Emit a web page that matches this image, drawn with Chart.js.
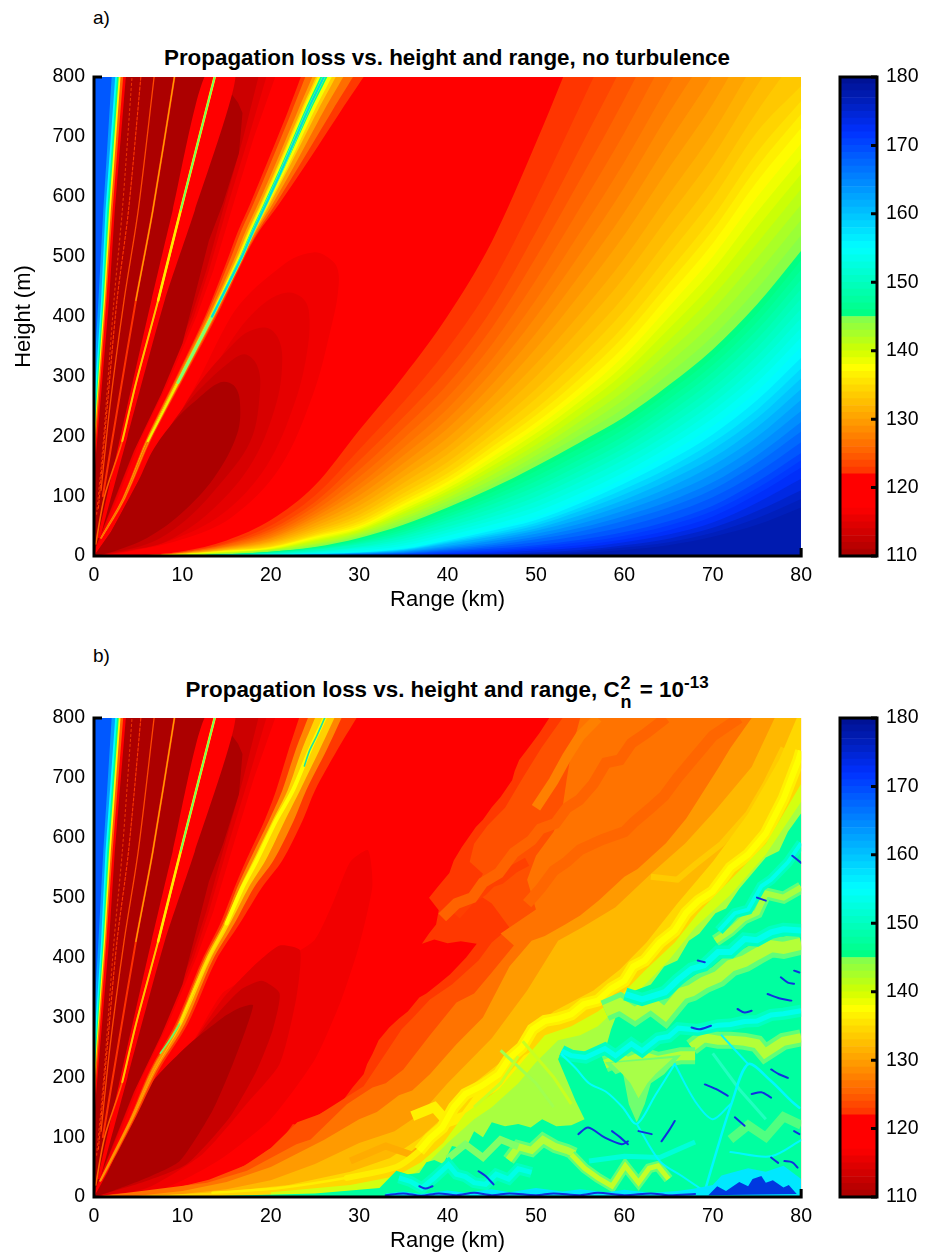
<!DOCTYPE html>
<html>
<head>
<meta charset="utf-8">
<script src="https://cdn.jsdelivr.net/npm/chart.js@4"></script>
<style>
  body { margin: 0; background: #fff; font-family: "Liberation Sans", sans-serif; color: #000; }
  #page { position: relative; width: 926px; height: 1253px; overflow: hidden; }
  canvas { position: absolute; }
  .tag { position: absolute; left: 93px; font-size: 19px; line-height: 22px; }
  .ttl { position: absolute; left: 0; width: 894px; text-align: center; font-size: 22.4px; font-weight: bold; line-height: 26px; white-space: nowrap; }
  .ttl sup { font-size: 17px; line-height: 0; vertical-align: 9px; }
  .stack { display: inline-block; position: relative; width: 14px; height: 10px; }
  .stack b { position: absolute; left: 1px; font-size: 18px; line-height: 18px; }
</style>
</head>
<body>
<div id="page">
  <div class="tag" style="top:7px">a)</div>
  <div class="ttl" style="top:45px">Propagation loss vs. height and range, no turbulence</div>
  <div class="tag" style="top:645px">b)</div>
  <div class="ttl" style="top:677px">Propagation loss vs. height and range, C<span class="stack"><b style="top:-13px">2</b><b style="top:6px">n</b></span> = 10<sup>-13</sup></div>
  <canvas id="plotA" width="820" height="620" style="left:0;top:0"></canvas>
  <canvas id="barA" width="106" height="620" style="left:820px;top:0"></canvas>
  <canvas id="plotB" width="820" height="620" style="left:0;top:641px"></canvas>
  <canvas id="barB" width="106" height="620" style="left:820px;top:641px"></canvas>
</div>
<script>
// ---- data: range in km, height in m, loss in dB ----
const rangeTicks = [0, 10, 20, 30, 40, 50, 60, 70, 80];
const heightTicks = [0, 100, 200, 300, 400, 500, 600, 700, 800];
const lossTicks = [110, 120, 130, 140, 150, 160, 170, 180];

const colorbarLevels = [110,111,112,113,114,115,116,117,118,119,120,121,122,123,124,125,126,127,128,129,130,131,132,133,134,135,136,137,138,139,140,141,142,143,144,145,146,147,148,149,150,151,152,153,154,155,156,157,158,159,160,161,162,163,164,165,166,167,168,169,170,171,172,173,174,175,176,177,178,179];

// panel a: height of each loss level at these ranges
const rangeGrid = [0, 5, 10, 15, 20, 25, 30, 35, 40, 45, 50, 55, 60, 65, 70, 75, 80];
const levelsA = [122,123,124,125,126,127,128,129,130,131,132,133,134,135,136,137,138,139,140,141,142,143,144,145,146,147,148,149,150,151,152,153,154,155,156.5,158,159.5,161,162.5,164,165.5,167,168.5,170,171,172,173.5,175,176,177];
const h122 = [0,1,8,26,60,118,210,300,401,525,690,870,1050,1230,1400,1600,1800];
const h123 = [0,1,7,22,51,101,178,257,346,455,597,752,910,1075,1226,1405,1583];
const h124 = [0,1,6,20,45,90,159,232,312,412,541,682,826,979,1120,1288,1453];
const h125 = [0,0,6,19,41,83,144,213,287,381,499,629,763,907,1041,1200,1355];
const h126 = [0,0,6,17,37,76,132,196,265,353,461,582,707,843,971,1122,1268];
const h127 = [0,0,5,16,34,70,120,181,246,328,428,541,658,787,909,1054,1192];
const h128 = [0,0,5,15,31,65,111,168,229,307,400,505,616,739,856,996,1127];
const h129 = [0,0,5,14,29,60,101,155,213,286,372,470,574,691,804,937,1062];
const h130 = [0,0,4,13,26,55,92,143,197,266,347,438,536,647,755,883,1002];
const h131 = [0,0,4,12,24,50,84,132,182,247,321,405,497,603,707,830,943];
const h132 = [0,0,4,11,22,46,76,122,170,231,300,379,466,567,667,786,894];
const h133 = [0,0,4,10,20,42,69,113,157,215,279,353,434,531,628,742,845];
const h134 = [0,0,3,10,18,39,64,105,148,203,263,332,410,503,597,708,785];
const h135 = [0,0,3,9,16,36,58,98,138,191,246,311,385,475,566,674,760];
const h136 = [0,0,3,9,15,34,54,92,131,182,235,297,368,455,544,649,738];
const h137 = [0,0,3,8,14,32,50,87,124,173,223,282,350,435,522,625,715];
const h138 = [0,0,3,7,13,30,48,83,119,165,214,270,335,416,500,599,689];
const h139 = [0,0,3,7,12,28,45,78,113,158,205,259,320,398,478,574,664];
const h140 = [0,0,2,6,11,26,43,74,108,150,196,248,306,379,456,548,638];
const h141 = [0,0,2,6,11,24,40,70,103,143,186,236,291,360,434,522,613];
const h142 = [0,0,2,5,10,21,38,65,97,135,177,225,276,341,411,497,587];
const h143 = [0,0,2,4,9,19,35,61,92,127,168,213,262,322,389,471,561];
const h144 = [0,0,1,4,8,17,33,56,86,120,159,202,247,304,367,446,536];
const h145 = [0,0,1,3,7,15,30,52,81,113,150,190,232,285,345,420,510];
const h146 = [0,0,1,3,7,14,28,48,76,106,142,181,222,274,332,405,494];
const h147 = [0,0,1,3,6,13,25,44,70,99,133,171,212,262,319,391,478];
const h148 = [0,0,1,2,6,12,23,40,65,93,125,162,201,251,307,377,462];
const h149 = [0,0,1,2,5,11,21,36,60,86,116,152,191,239,294,362,446];
const h150 = [0,0,1,2,5,10,19,33,55,79,108,143,181,228,281,348,430];
const h151 = [0,0,0,2,4,8,16,29,49,72,99,133,171,216,268,333,413];
const h152 = [0,0,0,2,4,7,14,25,44,65,91,124,161,204,255,319,397];
const h153 = [0,0,0,1,3,6,12,21,39,59,82,114,150,193,243,304,381];
const h154 = [0,0,0,1,3,5,9,17,34,52,74,105,140,182,230,290,365];
const h155 = [0,0,0,1,2,4,7,13,28,45,65,95,130,170,217,275,349];
const h1565 = [0,0,0,1,2,4,6,12,26,42,60,88,121,159,203,260,331];
const h158 = [0,0,0,1,2,3,6,11,24,38,55,81,112,147,190,244,313];
const h1595 = [0,0,0,1,1,3,5,10,22,35,51,75,103,137,178,230,297];
const h161 = [0,0,0,1,1,3,5,9,20,32,46,68,94,126,164,215,279];
const h1625 = [0,0,0,0,1,2,4,8,17,28,42,61,85,114,151,199,261];
const h164 = [0,0,0,0,1,2,4,7,15,25,37,54,76,103,137,184,242];
const h1655 = [0,0,0,0,0,2,3,6,13,21,32,47,67,91,123,168,224];
const h167 = [0,0,0,0,0,1,3,5,11,18,28,41,59,81,111,155,208];
const h1685 = [0,0,0,0,0,1,2,4,9,15,23,34,49,70,98,139,190];
const h170 = [0,0,0,0,0,0,2,3,7,12,18,27,40,58,84,124,172];
const h171 = [0,0,0,0,0,0,1,2,5,9,15,23,34,51,75,113,160];
const h172 = [0,0,0,0,0,0,1,2,4,7,12,18,28,43,66,103,148];
const h1735 = [0,0,0,0,0,0,0,1,3,5,9,14,23,36,56,89,129];
const h175 = [0,0,0,0,0,0,0,1,2,3,6,10,18,29,47,75,110];
const h176 = [0,0,0,0,0,0,0,0,1,2,4,7,14,23,39,63,95];
const h177 = [0,0,0,0,0,0,0,0,0,1,2,5,10,18,32,52,81];
const curvesA = [h122,h123,h124,h125,h126,h127,h128,h129,h130,h131,h132,h133,h134,h135,h136,h137,h138,h139,h140,h141,h142,h143,h144,h145,h146,h147,h148,h149,h150,h151,h152,h153,h154,h155,h1565,h158,h1595,h161,h1625,h164,h1655,h167,h1685,h170,h171,h172,h1735,h175,h176,h177];

// low loss lobe under the main null, panel a, [range, height]
const lobeA116 = [[0,0],[3.4,6],[9.8,27],[15.5,64],[21,147],[24.8,271],[26.8,380],[27.6,440],[27.5,482],[26,503],[24.8,507],[22.5,497],[20.7,478],[17.7,440],[15.5,400],[11.5,285],[8,195],[5,110],[2,40]];
const lobeA115 = [[0,0],[3.4,7],[8.5,25],[14.5,70],[19.5,150],[22.8,260],[24.2,350],[24.3,410],[23.5,432],[21.9,440],[19.5,425],[16.5,380],[13,300],[9.2,215],[6,125],[2.5,40]];
const lobeA114 = [[0,0],[3.4,8],[8.3,25],[13.6,80],[18,159],[20.7,259],[21.3,331],[20.8,365],[19.6,381],[17.5,375],[15.8,355],[11.7,285],[8.5,205],[5.5,120],[2.2,40]];
const lobeA113 = [[0,0],[6,20],[9.8,53],[13.6,109],[17.7,192],[18.8,281],[18.4,320],[17,337],[15.1,321],[11.3,268],[8.4,212],[5.2,130],[2,42]];
const lobeA112 = [[0,0],[2.3,8],[6,30],[9.8,70],[13.6,131],[16.2,204],[16.5,259],[15.8,285],[14.3,290],[11.7,262],[9.5,232],[6.8,180],[5,125],[1.9,40]];

// low loss wedge left of the main null (both panels)
const wedge116 = [[0,0],[0,800],[20.5,800],[18.1,700],[15.8,589],[13.5,477],[11.6,400],[8.4,290],[5.2,192],[2.7,97],[0.3,15]];
const wedge115 = [[0,0],[0,800],[19.5,800],[17.5,700],[15.2,589],[13,477],[11.3,400],[8.2,290],[5,192],[2.5,97],[0.2,15]];
const wedge114 = [[0,0],[0,800],[18.6,800],[16.9,700],[14.8,589],[12.7,477],[11,400],[8,290],[4.8,192],[2.4,97],[0.2,15]];
const wedge112 = [[0,0],[0,800],[14.9,800],[15.4,775],[16.3,757],[16.8,740],[16.4,673],[14.6,589],[13,527],[11.5,440],[10,355],[7.6,270],[4.5,175],[2.2,90],[0.2,15]];

// high loss wedge at the left axis (both panels)
const edge117 = [[0,130],[1.7,427],[2.35,577],[3.6,800],[0,800]];
const edge125 = [[0,150],[1.4,427],[2.1,577],[3.3,800],[0,800]];
const edge137 = [[0,180],[1.25,427],[1.9,577],[3,800],[0,800]];
const edge145 = [[0,195],[1.1,427],[1.7,577],[2.8,800],[0,800]];
const edge155 = [[0,215],[0.95,427],[1.5,577],[2.6,800],[0,800]];
const edge165 = [[0,250],[0.8,427],[1.3,577],[2.4,800],[0,800]];
const edge170 = [[0,300],[0.5,427],[1.05,577],[2,800],[0,800]];

// thin nulls fanning out of the origin
const null2 = [[0.3,70],[1.1,200],[2.26,427],[3.2,577],[4.3,800]];
const null3 = [[0.5,80],[1.5,250],[2.6,427],[3.9,577],[5.3,800]];
const null4 = [[0.8,110],[1.8,250],[3.4,427],[5,577],[6.8,800]];
const null5 = [[1,100],[2.7,250],[4.74,427],[6.65,577],[9.1,800]];
const null5Upper = [[4.74,427],[6.65,577],[9.1,800]];
const null6 = [[0.2,20],[1.2,100],[3.2,192],[4.74,288],[7.26,427],[9.8,577],[13.65,800]];
const null6Mid = [[3.2,192],[4.74,288],[7.26,427],[9.8,577],[13.65,800]];
const null6Upper = [[7.26,427],[9.8,577],[13.65,800]];
const null6Top = [[9.8,577],[13.65,800]];
const halo6 = [[0.4,30],[3,200],[6.5,427],[8.9,577],[12.5,800],[16,800],[11.4,577],[8,427],[3.8,200],[0.7,30]];

// main null of panel a with its halo, edges at these heights
const haloHeights = [800,745,650,589,539,499,400,290,192,97,30];
const nullA = [26,24.2,21.4,19.5,17.9,16.7,13.35,9.5,6.1,3.4,0.8];
const haloLeft122 = [23.4,22,19.4,17.7,16.2,15.2,12.55,9,5.8,3.2,0.7];
const haloLeft126 = [23.9,22.44,19.8,18.06,16.54,15.5,12.71,9.1,5.86,3.24,0.72];
const haloLeft130 = [24.7,23.1,20.4,18.6,17.05,15.95,12.95,9.25,5.95,3.3,0.75];
const haloLeft134 = [25.1,23.43,20.7,18.87,17.3,16.18,13.07,9.33,6,3.33,0.77];
const haloLeft138 = [25.3,23.6,20.86,19.01,17.44,16.3,13.13,9.37,6.02,3.35,0.78];
const haloLeft146 = [25.6,23.87,21.1,19.23,17.65,16.48,13.23,9.43,6.06,3.37,0.79];
const haloRight122 = [30.5,28,23.8,21,18.55,17.05,13.85,9.9,6.4,3.6,0.9];
const haloRight126 = [29.3,27,23.15,20.6,18.4,16.95,13.7,9.8,6.32,3.55,0.88];
const haloRight130 = [28.2,26.05,22.6,20.25,18.2,16.85,13.6,9.7,6.25,3.5,0.85];
const haloRight134 = [27.35,25.35,22.1,19.95,18.1,16.8,13.5,9.62,6.19,3.46,0.84];
const haloRight138 = [26.9,24.96,21.9,19.8,18.03,16.77,13.45,9.58,6.16,3.44,0.82];
const haloRight146 = [26.4,24.54,21.6,19.64,17.96,16.73,13.4,9.53,6.13,3.42,0.81];

// panel b: low loss lobe
const lobeB116 = [[0,0],[8,15],[14,60],[20,130],[25,230],[28,330],[30,420],[31.5,520],[31,579],[29,560],[27,490],[25,430],[22,400],[18,370],[14.5,340],[11,255],[7,180],[3,80]];
const lobeB114 = [[0,0],[6,15],[12.3,72],[17.3,156],[21,222],[22.9,333],[23.3,412],[21,420],[18,385],[14.5,330],[10.8,250],[7,175],[3,75]];
const lobeB113 = [[0,0],[6,27],[10.5,55],[15.3,132],[18.4,211],[20.2,278],[21,340],[19,361],[16.5,345],[13,290],[10,235],[6.7,172],[2.5,55]];
const lobeB112 = [[0,0],[2.1,10],[6,32],[9.7,60],[13.4,144],[15.7,222],[18,320],[16.5,316],[14.6,300],[10.8,256],[6.7,194],[4,120],[1.5,40]];

// panel b: main null smeared by the turbulence
const bandHeights = [800,746,679,629,562,517,457,395,289,211,127,27];
const nullB = [26.1,24.4,22.5,20.6,18.4,16.8,15,12.8,9.7,6.7,4.1,0.7];
const bandLeft122 = [23.2,22,20.6,19.3,17.2,15.9,14.3,12.2,9.2,6.3,3.9,0.6];
const bandLeft128 = [24.2,22.8,21.3,19.8,17.6,16.2,14.6,12.4,9.4,6.45,4,0.65];
const bandLeft135 = [25,23.5,21.9,20.2,18,16.5,14.8,12.6,9.55,6.6,4.05,0.68];
const bandRight122 = [29.7,27.5,25,23.6,21.3,19,16.5,13.8,10.6,7.3,4.5,0.9];
const bandRight128 = [28,26.3,24,22.6,20.3,18.1,15.9,13.4,10.3,7.05,4.35,0.82];
const bandRight135 = [27.2,25.5,23.3,21.6,19.4,17.5,15.4,13.1,9.95,6.85,4.2,0.75];
const nullBGreenTop = [[26.1,800],[25.2,770],[24.4,746],[23.8,720]];
const nullBGreenLow = [[9.7,289],[8.7,265],[7.5,240]];

// panel b: rough loss contours, closed along the right edge of the plot
const zone122 = [[0,0],[2.2,5],[7.8,10],[12.8,27],[14.5,33],[16.5,49],[18,60],[19.5,77],[21,90],[22.5,122],[23.6,118],[24.7,132],[27,150],[28,158],[29.2,182],[30.5,205],[30.9,222],[31.5,239],[32.2,262],[33.4,283],[34.5,298],[35.5,310],[36.8,333],[37.6,340],[39,356],[40.3,372],[42.1,400],[43.3,423],[41.5,427],[40,424],[38.5,430],[37.1,423],[37.9,440],[38.7,455],[39,479],[37.9,500],[38.9,518],[40.2,541],[40.7,562],[41.6,584],[43.2,618],[44,630],[45,651],[46,668],[47.3,696],[47.6,712],[48.1,730],[49.2,751],[50.4,775],[51.5,800]];
const zone124 = [[0,0],[3,4],[8,11],[13,29],[17,52],[20,82],[23,125],[25.5,138],[30.5,185],[33,240],[34.8,280],[36,298],[38,330],[40.5,355],[43.5,395],[45,425],[47,450],[45,490],[43,510],[44,540],[42.5,560],[43,590],[44.5,620],[46.5,650],[48.5,700],[50.6,750],[53,800]];
const zone126 = [[0,0],[12.8,24],[17.3,44],[22.9,88],[24.5,96],[28.6,155],[31.5,183],[33,190],[35,213],[38,270],[41,325],[43,340],[45,375],[47.5,420],[46,440],[50,480],[49,530],[50,570],[52,610],[53,650],[53.5,700],[54,745],[55,800]];
const zone130 = [[0,0],[5,2],[10,10],[15,25],[20,50],[26,95],[30,130],[32,142],[34.5,170],[36,178],[38,205],[41,255],[44,300],[47,385],[49.5,428],[51,436],[53.3,455],[55,470],[57.1,495],[60,535],[61.5,548],[64.7,591],[67,632],[70.7,718],[72,750],[74.4,800]];
const zone133 = [[0,0],[5,1],[10,5],[15,13],[20,28],[25,55],[30,90],[34,110],[37,140],[40,190],[45,265],[49,345],[52.5,428],[55.2,450],[59,484],[63.1,541],[66.9,591],[70.3,646],[74.4,718],[77,800]];
const zone136 = [[0,0],[8,3],[15,9],[22,20],[29,42],[33.5,65],[37,100],[40,140],[43,190],[46,225],[49,270],[52,310],[56.5,345],[59.5,380],[62.5,425],[66,490],[70,560],[74,640],[77.5,730],[79.5,800]];
const zone140 = [[20,0],[20,8],[29,20],[34.2,35],[37,58],[39.5,90],[42,140],[45.8,180],[48.4,225],[51,270],[54,285],[57,310],[60,343],[62.3,378],[65.7,425],[68.4,475],[72,530],[76,590],[80,690],[80,0]];
const zone143 = [[30,0],[35,25],[38,60],[40,90],[43,130],[45,150],[48,190],[50,225],[52.5,262],[55,270],[57,285],[59.5,320],[62,350],[65,395],[68,450],[72,505],[76,572],[80,660],[80,0]];
const zoneGreen = [[10,0],[15,2],[25,6],[32.3,15],[34.2,44],[35.5,38],[36.8,40],[37.6,58],[38.5,62],[39.5,55],[40.5,85],[42,80],[43,110],[44,100],[45,125],[46.5,118],[48,122],[49.4,116],[50.7,130],[52.3,118],[54,120],[55.5,130],[54.5,160],[53.5,195],[52.5,230],[52.9,244],[55.6,238],[57.8,244],[58.5,280],[60,338],[63,355],[64.5,385],[66,395],[67.3,428],[68.5,440],[70.3,474],[71.5,482],[73,515],[76,567],[77.5,578],[78.5,610],[80,641],[80,0]];
const zoneCyan = [[33,0],[33,6],[35,9],[37,5],[40,11],[42,7],[45,13],[47,8],[50,15],[53,9],[55,13],[58,8],[60,12],[63,7],[66,10],[68,14],[70,20],[71,36],[72,40],[74,48],[76,42],[78,52],[80,30],[80,0]];
const zoneBlue = [[69.5,3],[70.5,18],[71.5,10],[73,25],[74,18],[74.5,30],[75.5,35],[76,24],[76.8,28],[78,16],[78.6,20],[79.5,5]];
const wedgeOuter = [[57.8,225],[59,205],[59.8,210],[60.5,155],[61.4,125],[62.3,155],[63,190],[64.5,205],[66.4,237]];
const wedgeInner = [[58.5,224],[59.8,205],[60.7,190],[61.6,165],[62.6,190],[63.5,205],[65.5,232]];

// orange strips inside the amber part of panel b
const stripOrange1 = [[64.7,800],[62.5,775],[60.8,758],[59.5,730],[57.9,725],[56.5,690],[54.9,663],[53.5,650],[52.2,624],[50.5,615],[49.5,596],[47.5,575],[45.8,541],[44,525],[42.8,500],[41,490],[39.4,467]];
const stripOrange2 = [[73,800],[70,770],[68,735],[66,700],[64.5,670],[63,650],[61,625],[60,610],[57.5,597],[55,580],[53.5,560],[52,545],[50.5,515],[49,490]];
const stripRed = [[41,470],[42.5,495],[44,510],[45,525],[46,530],[47.5,548],[49,560]];
const stripLight1 = [[57,800],[55,770],[53.5,735],[52,695],[50,650]];
const amberLight1 = [[63,535],[66,530],[68,555],[71,590],[74,640],[76,690],[78,750]];
const amberLight2 = [[36,135],[38.5,150],[40,125],[42,135],[44,175],[47,195],[49,230],[52,255]];
const amberLight3 = [[29,60],[33,85],[36,70],[38,95]];
// ridges and valleys of the scintillation
const ridgeYellowLow = [[13.4,7],[21,15],[28.6,32],[34.2,50]];
const ridgeYellowMid = [[28.6,32],[34.2,50],[36.8,77],[38,98]];
const ridgeYellow = [[36.8,77],[38,98],[39.4,116],[40.7,150],[42,172],[43.8,185],[45.8,205],[47,232],[48.4,250],[49.6,280],[51,294],[52.5,298],[54,305],[55.4,322],[57,328],[58.5,348],[60,361],[61,385],[62.3,395],[64,425],[65.7,445],[67,475],[68.4,495],[70,510],[72,550],[74,572],[76,607],[78,665],[79.7,730],[80,745]];
const ridgeT0 = [[70.3,428],[72,445],[73.5,465],[75,475],[76,507],[78,500],[80,517]];
const ridgeT1 = [[57.8,311],[59.5,322],[61.2,306],[63,324],[64.6,306],[66.5,340],[67.6,345],[69,358],[70.6,368],[72,386],[73.6,394],[75,406],[76.6,419],[78,416],[80,423]];
const ridgeT2 = [[67.6,250],[69,266],[70.6,262],[72,262],[73.6,260],[75,256],[75.9,240],[78,260],[80,266]];
const ridgeT3 = [[57.8,222],[59.5,232],[60.4,226],[62,236],[63.8,228],[66.4,236],[68,236]];
const ridgeT5 = [[46.9,62],[48,84],[49.5,78],[50.8,96],[52.2,84],[53.5,78],[54.4,72]];
const ridgeT6 = [[54,71],[55.5,48],[57,32],[58.6,18],[60.1,52],[61.6,24],[62.8,48],[63.8,52],[65,30]];
const ridgeT7 = [[40,64],[42,88],[44,66],[46,96],[48,84]];
const ridgeT8 = [[72,96],[74,120],[76,100],[78,134],[80,120]];
const valleyV0 = [[70.7,445],[72.5,474],[74,480],[75.5,519],[76.6,530],[78.5,559],[80,591]];
const valleyV1 = [[60.1,339],[62,330],[64.6,342],[66,362],[67.6,381],[69,387],[70.6,409],[72,409],[73.6,431],[75,429],[76.6,442],[78,447],[80,445]];
const valleyV2 = [[52.9,244],[54,236],[55.6,233],[57.8,248],[59,236],[60.8,256],[62,244],[63.8,265],[65,268],[66.1,282],[68.3,279],[70.6,287],[72,288],[73.6,293],[75,294],[76.6,304],[78,306],[80,311]];
const valleyB4 = [[34.5,32],[35.8,26],[37.1,15],[38.5,32],[40.1,54],[41,38],[42,34],[43,24],[44.3,21],[45.5,38],[46.9,30],[48,47],[49.5,41]];
const valleyB5 = [[56,60],[60,68],[64,66],[68,92]];
const cyanV = [[52.9,238],[54.5,215],[56,190],[58,175],[59.8,150],[61.4,122],[63.5,170],[65.7,222]];
const cyanC1 = [[69.1,10],[70.5,80],[72.1,155],[74,222],[76.5,195],[78.9,160],[79.8,149]];
const cyanC2 = [[61.4,122],[64,60],[66.5,35],[69,10]];
const cyanC3 = [[72,75],[76.6,68],[80,95]];
const cyanC4 = [[65.7,222],[68,160],[70,130],[72,155]];
const cyanC5 = [[74,222],[71,270]];
const hatch1 = [[46,245],[50,190],[52,150]];
const hatch2 = [[48.5,260],[52,200],[54,155]];
const hatch3 = [[43,150],[46,190],[48,235]];
const hatch4 = [[70,240],[73,180],[76,130]];
// short dark blue streaks
const streak1 = [[54.8,105],[55.9,116],[57.8,99],[59.7,88],[60.4,93]];
const streak2 = [[58.6,110],[59.5,100],[60.4,88]];
const streak3 = [[61.6,110],[63.1,105]];
const streak4 = [[64.2,93],[65,110],[65.7,127]];
const streak5 = [[67.6,283],[68.5,280],[69.8,286]];
const streak6 = [[69.1,188],[70.4,180],[71.7,169]];
const streak7 = [[74.4,172],[75.5,175],[76.6,166]];
const streak8 = [[72.8,314],[73.6,308],[74.4,311]];
const streak9 = [[76.6,213],[77.5,205],[78.5,199]];
const streak10 = [[77.7,367],[78.5,358],[79.2,356]];
const streak11 = [[79.2,378],[79.8,375]];
const streak12 = [[76.2,339],[77.5,332],[78.9,328]];
const streak13 = [[68.3,395],[69.1,392]];
const streak14 = [[78.1,60],[79,58],[79.6,49]];
const streak15 = [[76.6,66],[77.4,57]];
const streak16 = [[43.5,43],[44.3,35],[45.2,21]];
const streak17 = [[36.8,18],[37.5,14],[38.3,18]];
const streak18 = [[72.5,133],[73.6,119]];
const streak19 = [[79.2,110],[79.8,105]];
const streak20 = [[33,3],[35,6],[37,2],[39,6],[41,3],[43,7],[45,3],[47,6],[50,3],[52,6],[55,3],[57,7],[60,3],[63,6],[65,3],[68,5]];
const streak21 = [[79,570],[80,558]];
const streak22 = [[75,500],[76,495]];
const streaks = [streak1,streak2,streak3,streak4,streak5,streak6,streak7,streak8,streak9,streak10,streak11,streak12,streak13,streak14,streak15,streak16,streak17,streak18,streak19,streak20,streak21,streak22];

// ---- colours ----
const stopLevels = [110,112,114,116,117,121.9,122,125,130,135,137.5,140,144.9,145,155,172,176,180];
const stopColors = ['#a80000','#c00000','#d80000','#f00000','#ff0000','#ff0000','#ff3000','#ff6000','#ffa000','#ffdd00','#ffff00','#d0ff00','#80ff50','#00ff80','#00ffff','#0030ff','#0020c0','#001090'];

function lossColor(level) {
  let i = stopLevels.findIndex(s => s > level);
  if (i < 0) return stopColors[stopColors.length - 1];
  if (i === 0) return stopColors[0];
  const t = (level - stopLevels[i - 1]) / (stopLevels[i] - stopLevels[i - 1]);
  const rgb = n => [1, 3, 5].map(k => parseInt(n.substr(k, 2), 16));
  const a = rgb(stopColors[i - 1]), b = rgb(stopColors[i]);
  return 'rgb(' + a.map((v, k) => Math.round(v + (b[k] - v) * t)).join(',') + ')';
}

// ---- dataset helpers ----
const toXY = pts => pts.map(p => ({ x: p[0], y: p[1] }));
const zipXY = (xs, ys) => xs.map((x, i) => ({ x: x, y: ys[i] }));
const pairs = (xs, ys) => xs.map((x, i) => [x, ys[i]]);

const area = (xy, color) => ({ data: xy, fill: 'origin', backgroundColor: color, borderWidth: 0, cubicInterpolationMode: 'monotone' });
const shape = (pts, color, tension) => ({ data: toXY(pts), fill: 'shape', backgroundColor: color, borderWidth: 0, tension: tension || 0 });
const stroke = (pts, color, width, dash) => ({ data: toXY(pts), fill: false, borderColor: color, borderWidth: width, borderDash: dash || [], tension: 0.3, borderCapStyle: 'round', borderJoinStyle: 'round' });
// sharp edged zigzag, used for the rough bands of panel b
const sharp = (pts, color, width) => ({ data: toXY(pts), fill: false, borderColor: color, borderWidth: width, tension: 0, borderCapStyle: 'butt', borderJoinStyle: 'miter' });
const soft = (pts, outer, inner, outerWidth, innerWidth) => [sharp(pts, outer, outerWidth), sharp(pts, inner, innerWidth)];
const band = (left, right, heights, color) => ({ data: zipXY(left, heights).concat(zipXY(right, heights).reverse()), fill: 'shape', backgroundColor: color, borderWidth: 0, tension: 0.3 });
const closeRight = pts => pts.concat([[80, 800], [80, 0]]);

const redBase = () => area(toXY([[0, 800], [80, 800]]), '#ff0000');

function leftFan() {
  return [
    stroke(null2, '#e83000', 1.1, [2, 3]),
    stroke(null3, '#ff3800', 1.1, [3, 2]),
    stroke(null4, '#ff4800', 1.3),
    shape(halo6, '#ff0000', 0.2),
    stroke(null5, '#ff3000', 2),
    stroke(null5Upper, '#ffa000', 1.3),
    stroke(null6, '#ff6000', 1.6),
    stroke(null6Mid, '#ffc000', 2),
    stroke(null6Upper, '#ffe800', 2.6),
    stroke(null6Top, '#60ff70', 1.4),
    shape(edge117, '#ff0000'),
    shape(edge125, lossColor(125)),
    shape(edge137, lossColor(137)),
    shape(edge145, lossColor(146)),
    shape(edge155, lossColor(155)),
    shape(edge165, lossColor(163)),
    shape(edge170, '#0058ff')
  ];
}

function wedgeLayers() {
  return [
    shape(wedge116, '#f00000'),
    shape(wedge115, '#e00000'),
    shape(wedge114, '#cc0000'),
    shape(wedge112, '#ac0000')
  ];
}

const nullAPts = pairs(nullA, haloHeights);
const nullBPts = pairs(nullB, bandHeights);

const datasetsA = [
  redBase(),
  shape(lobeA116, '#f20000', 0.35),
  shape(lobeA115, '#e60000', 0.35),
  shape(lobeA114, '#d80000', 0.35),
  shape(lobeA113, '#c80000', 0.35),
  shape(lobeA112, '#ac0000', 0.35),
  ...wedgeLayers(),
  ...levelsA.map((l, i) => area(zipXY(rangeGrid, curvesA[i]), lossColor(l + 0.3))),
  ...leftFan(),
  band(haloLeft122, haloRight122, haloHeights, lossColor(122.5)),
  band(haloLeft126, haloRight126, haloHeights, lossColor(126)),
  band(haloLeft130, haloRight130, haloHeights, lossColor(130)),
  band(haloLeft134, haloRight134, haloHeights, lossColor(134)),
  band(haloLeft138, haloRight138, haloHeights, lossColor(138)),
  band(haloLeft146, haloRight146, haloHeights, lossColor(146)),
  stroke(nullAPts, '#ff7000', 1.6),
  stroke(nullAPts.slice(0, 9), '#f0f000', 2),
  stroke(nullAPts.slice(0, 8), '#80ff70', 3),
  stroke(nullAPts.slice(0, 7), '#00e0d8', 2.2)
];

const datasetsB = [
  redBase(),
  shape(lobeB116, '#f20000', 0.2),
  shape(lobeB114, '#e00000', 0.2),
  shape(lobeB113, '#c80000', 0.2),
  shape(lobeB112, '#ac0000', 0.2),
  ...wedgeLayers(),
  shape(closeRight(zone122), lossColor(122.5)),
  shape(closeRight(zone124), lossColor(124)),
  shape(closeRight(zone126), lossColor(126.5)),
  sharp(stripRed, lossColor(123), 9),
  sharp(stripLight1, lossColor(127.5), 10),
  sharp(stripOrange1, lossColor(125.2), 11),
  sharp(stripOrange2, lossColor(125.5), 11),
  shape(closeRight(zone130), lossColor(129.5)),
  shape(closeRight(zone133), lossColor(132)),
  sharp(amberLight1, lossColor(133.5), 6),
  shape(closeRight(zone136), lossColor(134.5)),
  sharp(amberLight2, lossColor(136.5), 10),
  sharp(amberLight3, lossColor(131), 7),
  stroke(ridgeYellowLow, '#ffee00', 2.5),
  stroke(ridgeYellowMid, '#ffee00', 6),
  ...soft(ridgeYellow, '#fff000', '#ffff00', 12, 6),
  shape(zone140, '#d4ff10'),
  shape(zone143, '#a8ff40'),
  shape(zoneGreen, lossColor(147.5)),
  ...soft(ridgeT0, '#60ff78', '#a8ff40', 12, 6),
  ...soft(ridgeT1, '#60ff78', '#b4ff38', 22, 12),
  ...soft(ridgeT2, '#60ff78', '#b4ff38', 17, 9),
  ...soft(ridgeT3, '#60ff78', '#b4ff38', 17, 9),
  ...soft(ridgeT5, '#60ff78', '#b4ff38', 13, 7),
  ...soft(ridgeT6, '#60ff78', '#c4ff28', 10, 5),
  sharp(ridgeT7, '#80ff68', 7),
  sharp(ridgeT8, '#50ff80', 9),
  shape(wedgeOuter, '#70ff70'),
  shape(wedgeInner, '#a8ff48'),
  ...soft(valleyV0, lossColor(150), lossColor(153.5), 10, 4),
  ...soft(valleyV1, lossColor(150), lossColor(153.5), 13, 6),
  ...soft(valleyV2, lossColor(150), lossColor(153.5), 12, 5),
  ...soft(valleyB4, lossColor(150), lossColor(153), 11, 5),
  sharp(valleyB5, lossColor(152), 5),
  sharp(hatch1, '#a0ff50', 3),
  sharp(hatch2, '#c8ff20', 3),
  sharp(hatch3, '#c8ff20', 3),
  sharp(hatch4, '#20ffc0', 3),
  stroke(cyanV, '#00ffff', 2),
  stroke(cyanC1, '#00f8ff', 2.5),
  stroke(cyanC2, '#00f8ff', 2),
  stroke(cyanC3, '#00f8ff', 2),
  stroke(cyanC4, '#00f8ff', 2),
  stroke(cyanC5, '#00f8ff', 2),
  shape(zoneCyan, '#00e8ff'),
  shape(zoneBlue, '#0038e0'),
  ...streaks.map(s => stroke(s, '#1030e0', 2)),
  ...leftFan(),
  band(bandLeft122, bandRight122, bandHeights, lossColor(122.5)),
  band(bandLeft128, bandRight128, bandHeights, lossColor(128)),
  band(bandLeft135, bandRight135, bandHeights, lossColor(134)),
  stroke(nullBPts, '#ff9000', 1.8),
  stroke(nullBPts.slice(0, 9), '#ffe000', 2.6),
  stroke(nullBPts.slice(0, 7), '#ffff00', 4),
  stroke(nullBGreenTop, '#20e0a0', 1.6),
  stroke(nullBGreenLow, '#60ff70', 1.5)
];

// ---- axes drawn like the original: thick left and bottom, ticks inward ----
const plotFrame = {
  id: 'plotFrame',
  afterDraw(chart) {
    const { ctx, chartArea: a, scales } = chart;
    ctx.save();
    ctx.strokeStyle = '#000';
    ctx.lineWidth = 3;
    ctx.beginPath();
    ctx.moveTo(a.left, a.top - 1.5);
    ctx.lineTo(a.left, a.bottom);
    ctx.lineTo(a.right + 1.5, a.bottom);
    // only these two ticks show, the others sit under the image
    const top = scales.y.getPixelForValue(800);
    ctx.moveTo(a.left, top);
    ctx.lineTo(a.left + 8, top);
    const end = scales.x.getPixelForValue(80);
    ctx.moveTo(end, a.bottom);
    ctx.lineTo(end, a.bottom - 8);
    ctx.stroke();
    ctx.restore();
  }
};

const barFrame = {
  id: 'barFrame',
  afterDraw(chart) {
    const { ctx, chartArea: a, scales } = chart;
    ctx.save();
    ctx.strokeStyle = '#000';
    ctx.lineWidth = 3;
    ctx.strokeRect(a.left, a.top, a.right - a.left, a.bottom - a.top);
    ctx.beginPath();
    lossTicks.forEach(v => {
      const y = scales.y.getPixelForValue(v);
      ctx.moveTo(a.right, y);
      ctx.lineTo(a.right - 6, y);
    });
    ctx.stroke();
    ctx.restore();
  }
};

const tickFont = { family: '"Liberation Sans"', size: 19.5 };
const axisTitleFont = { family: '"Liberation Sans"', size: 22 };

function plotChart(id, datasets) {
  datasets.forEach((d, i) => { d.order = -i; d.clip = 0; d.pointRadius = 0; d.showLine = true; d.capBezierPoints = false; });
  return new Chart(document.getElementById(id), {
    type: 'scatter',
    data: { datasets: datasets },
    plugins: [plotFrame],
    options: {
      responsive: false,
      animation: false,
      events: [],
      layout: { padding: { top: 77, right: 18 } },
      elements: { line: { capBezierPoints: false } },
      plugins: { legend: { display: false }, tooltip: { enabled: false } },
      scales: {
        x: {
          type: 'linear', min: 0, max: 80,
          afterBuildTicks: s => { s.ticks = rangeTicks.map(v => ({ value: v })); },
          afterFit: s => { s.height = 64; },
          grid: { display: false, drawTicks: false },
          border: { display: false },
          ticks: { font: tickFont, color: '#000', padding: 8, maxRotation: 0, autoSkip: false },
          title: { display: true, text: 'Range (km)', font: axisTitleFont, color: '#000', padding: { top: 0, bottom: 7 } }
        },
        y: {
          type: 'linear', min: 0, max: 800,
          afterBuildTicks: s => { s.ticks = heightTicks.map(v => ({ value: v })); },
          afterFit: s => { s.width = 94; },
          grid: { display: false, drawTicks: false },
          border: { display: false },
          ticks: { font: tickFont, color: '#000', padding: 9, autoSkip: false },
          title: id === 'plotA'
            ? { display: true, text: 'Height (m)', font: axisTitleFont, color: '#000', padding: { top: 11, bottom: 0 } }
            : { display: false }
        }
      }
    }
  });
}

function barChart(id) {
  return new Chart(document.getElementById(id), {
    type: 'bar',
    data: {
      labels: ['loss'],
      datasets: colorbarLevels.map(l => ({
        data: [[l, l + 1]],
        backgroundColor: lossColor(l + 0.5),
        borderWidth: 0,
        barPercentage: 1,
        categoryPercentage: 1,
        grouped: false
      }))
    },
    plugins: [barFrame],
    options: {
      responsive: false,
      animation: false,
      events: [],
      layout: { padding: { top: 77, bottom: 64, left: 20 } },
      plugins: { legend: { display: false }, tooltip: { enabled: false } },
      scales: {
        x: { display: false, stacked: false },
        y: {
          position: 'right', min: 110, max: 180,
          afterBuildTicks: s => { s.ticks = lossTicks.map(v => ({ value: v })); },
          afterFit: s => { s.width = 49; },
          grid: { display: false, drawTicks: false },
          border: { display: false },
          ticks: { font: tickFont, color: '#000', padding: 9, autoSkip: false }
        }
      }
    }
  });
}

plotChart('plotA', datasetsA);
barChart('barA');
plotChart('plotB', datasetsB);
barChart('barB');
</script>
</body>
</html>
